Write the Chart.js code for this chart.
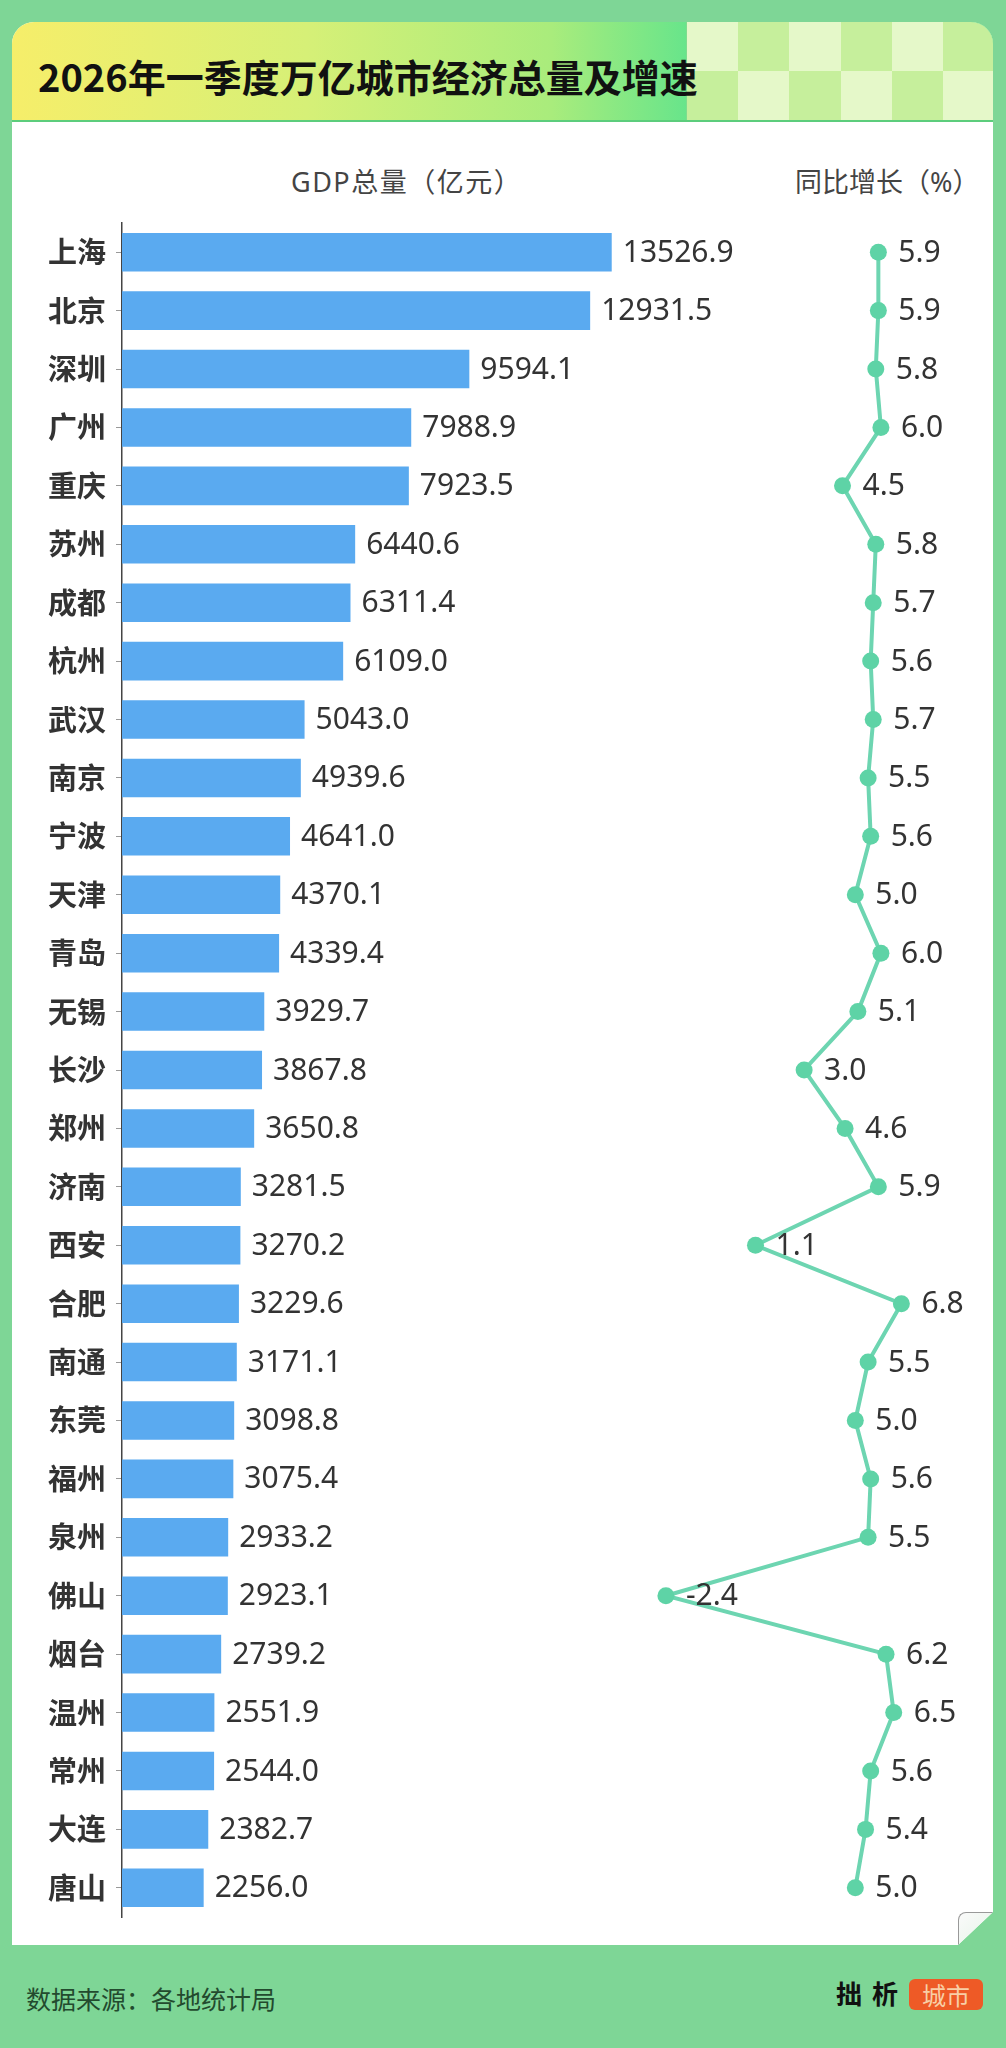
<!DOCTYPE html>
<html lang="zh-CN">
<head>
<meta charset="utf-8">
<title>2026年一季度万亿城市经济总量及增速</title>
<script src="https://cdn.jsdelivr.net/npm/chart.js@4.4.1/dist/chart.umd.min.js"></script>
<style>
  html, body { margin: 0; padding: 0; }
  body {
    width: 1006px; height: 2048px; position: relative; overflow: hidden;
    background: #7ed696;
    font-family: "Noto Sans CJK SC", "Noto Sans", sans-serif;
  }
  #card {
    position: absolute; left: 12px; top: 22px; width: 981px; height: 1923px;
    background: #fff; border-radius: 22px 22px 0 0; overflow: hidden;
    clip-path: polygon(0 0, 100% 0, 100% calc(100% - 33px), calc(100% - 35px) 100%, 0 100%);
  }
  #header {
    position: absolute; left: 0; top: 0; width: 100%; height: 98px;
    background: linear-gradient(90deg, #f6ee6a 0%, #d6f077 30%, #a9ec7c 55%, #62e48c 70%);
    border-bottom: 2px solid #5ccd7c;
  }
  #checker {
    position: absolute; left: 674px; top: 0; width: 307px; height: 98px;
    display: grid; grid-template-columns: repeat(6, 1fr); grid-template-rows: repeat(2, 1fr);
    border-left: 1px solid #7fdc8e;
  }
  #checker div:nth-child(odd) { background: #e5f8c9; }
  #checker div:nth-child(even) { background: #c6ef9c; }
  #checker div.r2:nth-child(odd) { background: #c6ef9c; }
  #checker div.r2:nth-child(even) { background: #e5f8c9; }
  #title {
    position: absolute; left: 38px; top: 51px; line-height: 50px;
    font-size: 38px; font-weight: bold; color: #111; white-space: nowrap;
  }
  .colhead {
    position: absolute; top: 164px; line-height: 36px;
    font-family: "Noto Sans", "Noto Sans CJK SC", sans-serif;
    font-size: 27px; color: #444; white-space: nowrap;
  }
  #fold {
    position: absolute; left: 958px; top: 1912px; width: 35px; height: 33px;
    border-top-left-radius: 8px; box-sizing: border-box;
    border-left: 1.5px solid #999; border-top: 1.5px solid #999;
    background: linear-gradient(135deg, #fafafa 0%, #eef6ef 60%, #dff2e3 100%);
    clip-path: polygon(0 0, 100% 0, 0 100%);
  }
  #source {
    position: absolute; left: 26px; top: 1981px; line-height: 34px;
    font-size: 25px; color: #234a2e; white-space: nowrap;
  }
  #logo-text {
    position: absolute; left: 836px; top: 1977px; line-height: 32px;
    font-size: 26px; font-weight: bold; color: #111; letter-spacing: 10px;
  }
  #logo-box {
    position: absolute; left: 909px; top: 1979px; width: 74px; height: 31px;
    background: #ee5a26; border-radius: 6px; color: #f8cfa6;
    font-size: 24px; line-height: 31px; text-align: center;
  }
  #chart { position: absolute; left: 0; top: 0; z-index: 2; }
</style>
</head>
<body>
<div id="card">
  <div id="header">
    <div id="checker">
      <div></div><div></div><div></div><div></div><div></div><div></div>
      <div class="r2"></div><div class="r2"></div><div class="r2"></div><div class="r2"></div><div class="r2"></div><div class="r2"></div>
    </div>
  </div>
</div>
<div id="fold"></div>
<div id="title">2026年一季度万亿城市经济总量及增速</div>
<div class="colhead" style="left:291px; letter-spacing:1.5px;">GDP总量（亿元）</div>
<div class="colhead" style="left:795px;">同比增长（%）</div>
<div id="source">数据来源：各地统计局</div>
<div id="logo-text">拙析</div>
<div id="logo-box">城市</div>

<canvas id="chart" width="1006" height="2048"></canvas>

<script>
// 数据：城市、GDP总量（亿元）、同比增长（%）
const cities = [
  '上海', '北京', '深圳', '广州', '重庆', '苏州', '成都', '杭州', '武汉', '南京',
  '宁波', '天津', '青岛', '无锡', '长沙', '郑州', '济南', '西安', '合肥', '南通',
  '东莞', '福州', '泉州', '佛山', '烟台', '温州', '常州', '大连', '唐山'
];
const gdpValues = [
  13526.9, 12931.5, 9594.1, 7988.9, 7923.5, 6440.6, 6311.4, 6109.0, 5043.0, 4939.6,
  4641.0, 4370.1, 4339.4, 3929.7, 3867.8, 3650.8, 3281.5, 3270.2, 3229.6, 3171.1,
  3098.8, 3075.4, 2933.2, 2923.1, 2739.2, 2551.9, 2544.0, 2382.7, 2256.0
];
const growthValues = [
  5.9, 5.9, 5.8, 6.0, 4.5, 5.8, 5.7, 5.6, 5.7, 5.5,
  5.6, 5.0, 6.0, 5.1, 3.0, 4.6, 5.9, 1.1, 6.8, 5.5,
  5.0, 5.6, 5.5, -2.4, 6.2, 6.5, 5.6, 5.4, 5.0
];

const BAR_COLOR = '#5aaaf0';
const LINE_COLOR = '#6dd5b1';
const POINT_COLOR = '#5ed3a6';

// 数值标签：柱子右侧 + 折线点右侧
const valueLabels = {
  id: 'valueLabels',
  afterDatasetsDraw(chart) {
    const ctx = chart.ctx;
    ctx.save();
    ctx.font = '30px "Noto Sans", sans-serif';
    ctx.fillStyle = '#333';
    ctx.textAlign = 'left';
    ctx.textBaseline = 'middle';
    chart.data.datasets.forEach((ds, i) => {
      const meta = chart.getDatasetMeta(i);
      const gap = ds.type === 'line' ? 20 : 11;
      meta.data.forEach((el, j) => {
        ctx.fillText(ds.data[j].toFixed(1), el.x + gap, el.y + 1);
      });
    });
    ctx.restore();
  }
};

new Chart(document.getElementById('chart'), {
  type: 'bar',
  data: {
    labels: cities,
    datasets: [
      {
        type: 'bar',
        data: gdpValues,
        xAxisID: 'x',
        yAxisID: 'y',
        backgroundColor: BAR_COLOR,
        categoryPercentage: 1,
        barPercentage: 0.66,
        order: 2
      },
      {
        type: 'line',
        data: growthValues,
        xAxisID: 'x2',
        yAxisID: 'y',
        borderColor: LINE_COLOR,
        borderWidth: 4,
        pointRadius: 8.5,
        pointBackgroundColor: POINT_COLOR,
        pointBorderWidth: 0,
        tension: 0,
        order: 1
      }
    ]
  },
  options: {
    indexAxis: 'y',
    responsive: false,
    animation: false,
    layout: { padding: { left: 0, top: 223, right: 46, bottom: 131 } },
    plugins: {
      legend: { display: false },
      tooltip: { enabled: false }
    },
    scales: {
      x: { type: 'linear', axis: 'x', display: false, min: 0, max: 23147 },
      x2: { type: 'linear', axis: 'x', display: false, min: -23.65, max: 9.09 },
      y: {
        type: 'category',
        position: 'left',
        afterFit: scale => { scale.width = 122; },
        grid: {
          drawOnChartArea: false,
          offset: false,
          tickLength: 6,
          color: '#999'
        },
        border: { display: true, color: '#444', width: 1.5 },
        ticks: {
          padding: 10,
          color: '#333',
          font: { family: '"Noto Sans CJK SC"', size: 29, weight: 'bold' }
        }
      }
    }
  },
  plugins: [valueLabels]
});
</script>
</body>
</html>
